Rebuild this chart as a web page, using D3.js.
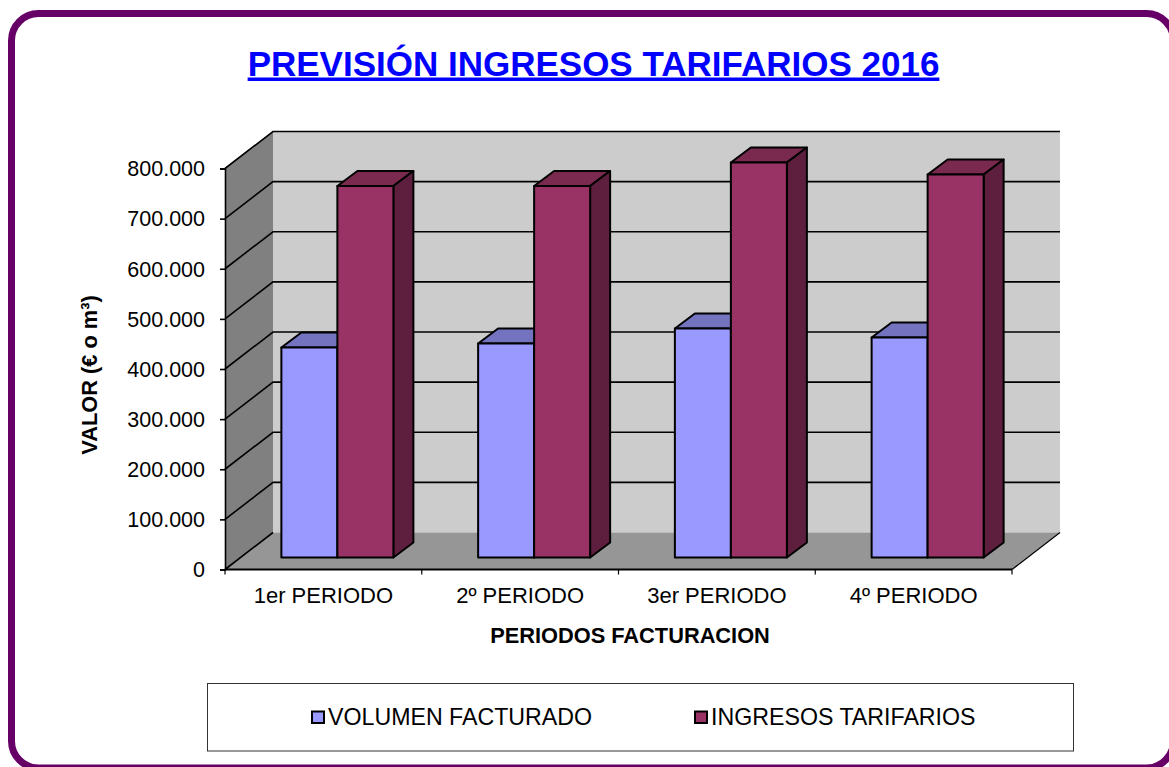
<!DOCTYPE html>
<html>
<head>
<meta charset="utf-8">
<script src="https://cdn.jsdelivr.net/npm/d3@7/dist/d3.min.js"></script>
<style>
html,body{margin:0;padding:0;background:#fff;overflow:hidden}
svg{display:block}
text{font-family:"Liberation Sans",Arial,sans-serif;fill:#000}
</style>
</head>
<body>
<svg id="c" width="1169" height="767"></svg>
<script>
const categories = ["1er PERIODO","2º PERIODO","3er PERIODO","4º PERIODO"];
const volumen = [419000,427000,457000,439000];
const ingresos = [741000,741000,788000,764000];
const tickValues = [0,100000,200000,300000,400000,500000,600000,700000,800000];
const tickLabels = ["0","100.000","200.000","300.000","400.000","500.000","600.000","700.000","800.000"];
const seriesNames = ["VOLUMEN FACTURADO","INGRESOS TARIFARIOS"];
const seriesValues = [volumen, ingresos];
const titleText = "PREVISIÓN INGRESOS TARIFARIOS 2016";
const yTitle = "VALOR (€ o m³)";
const xTitle = "PERIODOS FACTURACION";

const fills = [
  {front:"#9999ff", top:"#7373bf", side:"#5c5c99"},
  {front:"#993366", top:"#7a294f", side:"#5e1f3f"}
];

const svg = d3.select("#c");
const x0 = 225, x1 = 1012, y0 = 569.5, y1 = 168.5;
const wallDx = 48, wallDy = -37;
const y = d3.scaleLinear().domain([0,800000]).range([y0,y1]);
const x = d3.scaleBand().domain(categories).range([x0,x1]);
const barW = 56, barDx = 20, barDy = -15, baseDx = 14, baseDy = -12;

// frame
svg.append("rect").attr("x",11.5).attr("y",13.5).attr("width",1162).attr("height",754.5)
  .attr("rx",27).attr("fill","#fff").attr("stroke","#660066").attr("stroke-width",7);

// title
svg.append("text").attr("x",593.5).attr("y",75.5).attr("text-anchor","middle")
  .attr("font-size",35).attr("font-weight",700)
  .attr("style","fill:#0000ff;text-decoration:underline").text(titleText);

const poly = (pts,fill,stroke,sw)=>svg.append("polygon")
  .attr("points",pts.map(p=>p.join(",")).join(" "))
  .attr("fill",fill).attr("stroke",stroke||"none").attr("stroke-width",sw||0).attr("stroke-linejoin","round");

// walls
poly([[x0+wallDx,y1+wallDy],[x1+wallDx,y1+wallDy],[x1+wallDx,y0+wallDy],[x0+wallDx,y0+wallDy]],"#cccccc");
poly([[x0,y1],[x0+wallDx,y1+wallDy],[x0+wallDx,y0+wallDy],[x0,y0]],"#808080");
poly([[x0,y0],[x0+wallDx,y0+wallDy],[x1+wallDx,y0+wallDy],[x1,y0]],"#969696");

// gridlines
const grid = svg.append("g").attr("fill","none").attr("stroke","#000").attr("stroke-width",1.6);
tickValues.forEach(v=>{
  const yy = y(v);
  const path = d3.path();
  path.moveTo(x0,yy); path.lineTo(x0+wallDx,yy+wallDy);
  if(v>0) path.lineTo(x1+wallDx,yy+wallDy);
  grid.append("path").attr("d",path.toString());
});
svg.append("path").attr("d",`M${x1},${y0}L${x1+wallDx},${y0+wallDy}`).attr("stroke","#000").attr("stroke-width",1.2);

// bars
categories.forEach((c,i)=>{
  const cx = x(c)+x.bandwidth()/2+baseDx;
  [0,1].forEach(s=>{
    const v = seriesValues[s][i];
    const l = cx-barW+s*barW, r = l+barW;
    const b = y(0)+baseDy, t = y(v)+baseDy;
    const col = fills[s];
    poly([[l,t],[l+barDx,t+barDy],[r+barDx,t+barDy],[r,t]],col.top,"#000",2);
    poly([[r,t],[r+barDx,t+barDy],[r+barDx,b+barDy],[r,b]],col.side,"#000",2);
    poly([[l,t],[r,t],[r,b],[l,b]],col.front,"#000",2);
  });
});

// axes
const yAxis = d3.axisLeft(y).tickValues(tickValues).tickSize(5).tickPadding(15)
  .tickFormat((d,i)=>tickLabels[i]);
const gy = svg.append("g").attr("transform",`translate(${x0},0)`).call(yAxis);
gy.selectAll("text").attr("font-size",21.5).attr("dy","0.34em");
gy.selectAll("line,path").attr("stroke","#000").attr("stroke-width",1.6);

const xAxis = d3.axisBottom(x).tickSize(0).tickPadding(18);
const gx = svg.append("g").attr("transform",`translate(0,${y0})`).call(xAxis);
gx.selectAll("text").attr("font-size",22).attr("dy","0.71em");
gx.selectAll("path").attr("stroke","#000").attr("stroke-width",1.8);
gx.selectAll("path").attr("d",`M${x0},0H${x1}`);
categories.concat([null]).forEach((c,i)=>{
  const px = c? x(c): x1;
  svg.append("line").attr("x1",px).attr("x2",px).attr("y1",y0).attr("y2",y0+5).attr("stroke","#000").attr("stroke-width",1.2);
});

// axis titles
svg.append("text").attr("transform","translate(97,375) rotate(-90)").attr("text-anchor","middle")
  .attr("font-size",21.8).attr("font-weight",700).text(yTitle);
svg.append("text").attr("x",630).attr("y",642.5).attr("text-anchor","middle")
  .attr("font-size",21.8).attr("font-weight",700).text(xTitle);

// legend
svg.append("rect").attr("x",207.5).attr("y",683.5).attr("width",866).attr("height",67.5)
  .attr("fill","#fff").attr("stroke","#333").attr("stroke-width",1);
const legendX = [312,695], legendTextX = [328,711];
seriesNames.forEach((n,i)=>{
  svg.append("rect").attr("x",legendX[i]).attr("y",711.5).attr("width",12).attr("height",11.5)
    .attr("fill",fills[i].front).attr("stroke","#000").attr("stroke-width",2);
  svg.append("text").attr("x",legendTextX[i]).attr("y",724.5).attr("font-size",23.2).text(n);
});
</script>
</body>
</html>
